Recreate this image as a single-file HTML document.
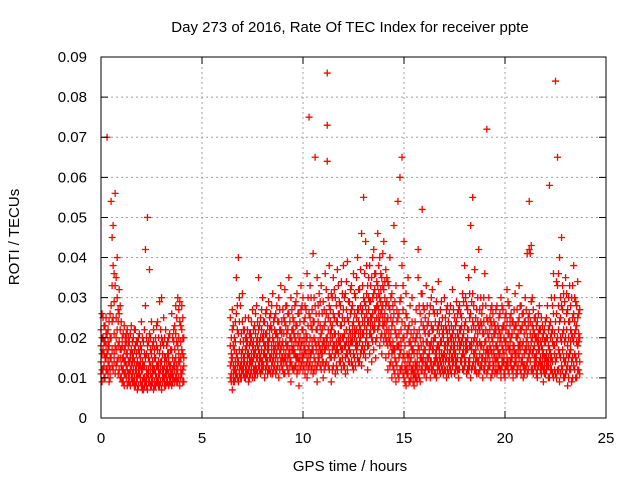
<!DOCTYPE html>
<html><head><meta charset="utf-8">
<style>
html,body{margin:0;padding:0;background:#fff;}
svg{display:block;font-family:"Liberation Sans",sans-serif;}
</style></head>
<body>
<svg id="chart" width="640" height="480" viewBox="0 0 640 480">
<rect x="0" y="0" width="640" height="480" fill="#fff"/>
<text x="350" y="32" font-size="15" text-anchor="middle" fill="#000">Day 273 of 2016, Rate Of TEC Index for receiver ppte</text>
<g id="grid"></g>
<g id="points"></g>
<g id="axes"></g>
<text x="350" y="471" font-size="15" text-anchor="middle">GPS time / hours</text>
<text x="19" y="237" font-size="15" text-anchor="middle" transform="rotate(-90 19 237)">ROTI / TECUs</text>
</svg>
<script>
const xTicks = [0,5,10,15,20,25];
const xTickLabels = ["0","5","10","15","20","25"];
const yTicks = [0,0.01,0.02,0.03,0.04,0.05,0.06,0.07,0.08,0.09];
const yTickLabels = ["0","0.01","0.02","0.03","0.04","0.05","0.06","0.07","0.08","0.09"];
// [time hours, roti values in 0.001 TECU/min]
const samples = [
[0.0,14,22,18,11],[0.1,17,25,12,20],[0.2,10,19,23,15],[0.3,70,16,12,21],[0.4,13,24,18,9],
[0.5,20,54,15,28],[0.6,38,12,25,48],[0.7,56,18,33,11],[0.8,30,14,22,40],[0.9,12,26,19,32],
[1.0,10,17,24,13],[1.1,9,15,21,12],[1.2,14,20,11,18],[1.3,8,16,22,12],[1.4,11,19,9,14],
[1.5,13,23,10,17],[1.6,9,15,20,12],[1.7,12,18,8,22],[1.8,10,14,19,7],[1.9,11,21,13,16],
[2.0,8,17,12,24],[2.1,7,13,19,10],[2.2,9,42,15,28],[2.3,50,11,18,7],[2.4,37,14,21,9],
[2.5,10,16,24,8],[2.6,12,19,7,22],[2.7,8,15,11,20],[2.8,9,24,13,17],[2.9,11,29,16,8],
[3.0,7,14,20,30],[3.1,10,18,12,25],[3.2,8,15,22,11],[3.3,12,19,9,16],[3.4,9,13,21,10],
[3.5,11,17,26,8],[3.6,13,22,10,19],[3.7,10,28,15,21],[3.8,12,18,30,9],[3.9,8,24,14,29],
[4.0,11,17,22,28],[4.1,9,13,20,15],
[6.4,10,18,25,13],[6.5,7,15,22,27],[6.6,12,20,9,17],[6.7,11,26,16,35],[6.8,40,14,21,9],
[6.9,13,19,28,10],[7.0,12,17,24,31],[7.1,10,15,22,14],[7.2,13,20,11,18],[7.3,9,16,25,12],
[7.4,11,21,14,19],[7.5,14,18,27,10],[7.6,10,23,16,12],[7.7,12,19,28,15],[7.8,13,22,17,35],
[7.9,11,25,15,20],[8.0,14,20,30,12],[8.1,10,18,24,16],[8.2,13,27,15,21],[8.3,12,19,29,17],
[8.4,15,23,11,26],[8.5,11,20,31,14],[8.6,13,25,17,22],[8.7,16,21,28,12],[8.8,10,24,18,30],
[8.9,14,22,33,17],[9.0,12,19,27,15],[9.1,15,24,11,32],[9.2,13,21,28,18],[9.3,11,26,16,35],
[9.4,14,20,30,9],[9.5,12,25,17,22],[9.6,16,28,13,20],[9.7,11,23,31,15],[9.8,14,19,26,8],
[9.9,13,27,18,33],[10.0,15,22,30,12],[10.1,11,25,17,28],[10.2,14,20,36,10],[10.3,75,18,26,13],
[10.4,16,30,12,23],[10.5,11,24,41,17],[10.6,65,19,28,14],[10.7,13,35,22,9],[10.8,15,26,18,31],
[10.9,12,21,33,16],[11.0,14,29,19,10],[11.1,17,24,36,13],[11.2,86,73,20,64],[11.3,12,28,16,38],
[11.4,15,22,31,9],[11.5,13,26,18,35],[11.6,16,30,21,11],[11.7,12,24,37,17],[11.8,14,29,19,26],
[11.9,17,23,34,12],[12.0,13,27,20,38],[12.1,15,31,18,11],[12.2,12,25,39,16],[12.3,17,29,22,14],
[12.4,14,33,19,27],[12.5,16,24,36,12],[12.6,13,30,21,18],[12.7,18,27,40,15],[12.8,14,32,23,19],
[12.9,17,46,26,13],[13.0,55,21,30,16],[13.1,15,28,44,19],[13.2,18,33,24,12],[13.3,16,29,38,21],
[13.4,20,35,25,14],[13.5,17,31,42,22],[13.6,19,27,36,15],[13.7,22,33,28,46],[13.8,18,30,40,24],
[13.9,21,35,27,16],[14.0,19,32,44,23],[14.1,15,28,37,20],[14.2,18,34,25,12],[14.3,13,27,40,19],
[14.4,16,23,31,10],[14.5,12,26,48,17],[14.6,14,21,33,9],[14.7,11,25,54,18],[14.8,60,16,29,12],
[14.9,65,13,24,38],[15.0,10,20,44,16],[15.1,12,26,31,8],[15.2,15,22,35,11],[15.3,9,19,28,14],
[15.4,12,24,17,30],[15.5,8,16,22,11],[15.6,13,20,27,10],[15.7,11,35,18,42],[15.8,9,26,15,20],
[15.9,52,14,31,12],[16.0,11,22,17,27],[16.1,13,19,33,10],[16.2,15,24,12,21],[16.3,10,18,28,14],
[16.4,12,32,17,22],[16.5,14,20,26,11],[16.6,10,17,29,15],[16.7,13,23,18,34],[16.8,11,19,27,14],
[16.9,15,25,12,21],[17.0,12,18,30,16],[17.1,10,22,15,27],[17.2,14,19,24,11],[17.3,12,28,17,20],
[17.4,15,21,32,13],[17.5,11,18,25,16],[17.6,13,24,14,29],[17.7,10,20,27,12],[17.8,14,26,18,22],
[17.9,12,31,16,20],[18.0,15,23,38,13],[18.1,11,19,28,17],[18.2,14,35,22,12],[18.3,10,48,18,26],
[18.4,55,13,24,31],[18.5,12,20,37,16],[18.6,15,27,19,11],[18.7,11,23,42,14],[18.8,13,30,18,24],
[18.9,10,21,28,15],[19.0,14,36,19,12],[19.1,72,17,25,11],[19.2,13,20,30,16],[19.3,10,24,17,27],
[19.4,12,19,26,14],[19.5,15,23,11,21],[19.6,11,18,28,15],[19.7,13,25,16,22],[19.8,10,20,30,12],
[19.9,14,27,17,23],[20.0,12,19,25,10],[20.1,15,24,32,13],[20.2,11,21,17,28],[20.3,13,26,15,20],
[20.4,10,18,24,12],[20.5,14,23,31,16],[20.6,12,20,27,11],[20.7,15,25,18,33],[20.8,11,22,28,14],
[20.9,13,19,26,10],[21.0,12,24,30,17],[21.1,14,41,20,11],[21.2,42,54,26,16],[21.3,43,19,29,12],
[21.4,11,22,17,27],[21.5,13,25,15,20],[21.6,10,19,24,12],[21.7,14,22,17,28],[21.8,11,18,25,13],
[21.9,12,21,16,9],[22.0,15,24,19,11],[22.1,13,20,28,14],[22.2,58,17,23,10],[22.3,12,21,30,15],
[22.4,10,26,18,36],[22.5,84,14,24,11],[22.6,65,20,33,12],[22.7,9,16,40,24],[22.8,13,28,19,45],
[22.9,10,22,31,15],[23.0,14,35,20,11],[23.1,8,18,27,13],[23.2,12,24,16,33],[23.3,9,30,21,14],
[23.4,13,38,19,26],[23.5,10,22,29,15],[23.6,12,34,18,25],[23.7,14,20,27,11]
];
// extra interleaved samples filling the dense core
const samplesCore = [
[0.05,16,12,20,26,9],[0.15,19,13,23,10,16],[0.25,12,21,15,18,25],[0.35,22,14,11,17,19],[0.45,15,26,12,20,10],
[0.55,24,33,17,13,45],[0.65,29,16,36,21,14],[0.75,25,35,13,20,17],[0.85,18,27,11,24,15],[0.95,15,22,10,17,28],
[1.05,12,20,15,9,18],[1.15,17,11,23,14,8],[1.25,10,16,19,13,21],[1.35,14,9,18,20,11],[1.45,16,12,8,21,15],
[1.55,11,19,14,9,16],[1.65,14,10,17,22,8],[1.75,9,16,13,19,11],[1.85,13,8,17,11,20],[1.95,9,15,10,18,13],
[2.05,12,9,20,14,7],[2.15,10,16,8,13,22],[2.25,12,20,10,16,8],[2.35,9,15,12,19,11],[2.45,13,8,17,11,20],
[2.55,11,14,9,18,13],[2.65,9,17,12,8,15],[2.75,13,10,18,9,23],[2.85,10,14,20,12,8],[2.95,12,9,18,14,22],
[3.05,9,12,16,11,19],[3.15,13,8,15,20,10],[3.25,10,14,18,9,12],[3.35,11,16,8,20,14],[3.45,13,10,17,12,9],
[3.55,10,15,12,20,9],[3.65,12,17,9,14,23],[3.75,11,19,13,9,25],[3.85,14,10,20,16,27],[3.95,10,15,12,19,23],
[4.05,12,9,16,20,25],
[6.45,9,14,20,16,11],[6.55,11,18,13,23,9],[6.65,14,10,19,24,12],[6.75,10,15,22,13,28],[6.85,12,17,11,24,30],
[6.95,10,16,14,21,12],[7.05,15,11,19,13,22],[7.15,12,17,20,10,25],[7.25,14,11,16,22,19],[7.35,13,18,10,21,15],
[7.45,12,16,20,24,14],[7.55,15,12,19,22,17],[7.65,13,17,21,11,26],[7.75,11,15,20,24,18],[7.85,14,19,12,23,16],
[7.95,12,17,22,14,27],[8.05,16,13,19,24,21],[8.15,12,15,21,18,26],[8.25,14,17,23,11,19],[8.35,15,12,20,25,22],
[8.45,13,18,16,22,28],[8.55,15,12,19,24,17],[8.65,11,18,21,15,26],[8.75,14,20,13,24,18],[8.85,12,16,22,19,27],
[8.95,15,18,13,24,21],[9.05,11,17,21,14,25],[9.15,14,19,16,23,28],[9.25,12,18,22,15,26],[9.35,15,20,13,24,17],
[9.45,13,17,22,19,27],[9.55,16,12,21,24,18],[9.65,13,19,23,15,29],[9.75,15,18,21,12,26],[9.85,12,17,24,20,15],
[9.95,14,19,22,16,28],[10.05,13,18,24,20,16],[10.15,16,21,13,27,19],[10.25,12,17,23,30,15],[10.35,14,20,16,25,33],
[10.45,13,19,22,17,27],[10.55,15,20,24,12,30],[10.65,12,17,22,26,18],[10.75,14,19,16,24,28],[10.85,13,20,23,17,29],
[10.95,16,18,22,26,14],[11.05,12,19,23,17,27],[11.15,14,20,26,18,32],[11.25,13,18,22,25,30],[11.35,15,19,24,21,27],
[11.45,12,17,23,20,30],[11.55,15,21,18,25,32],[11.65,13,19,24,17,28],[11.75,16,21,26,19,33],[11.85,14,18,23,28,20],
[11.95,15,20,25,17,31],[12.05,13,18,24,21,30],[12.15,16,22,19,27,34],[12.25,14,20,24,18,29],[12.35,16,21,26,19,32],
[12.45,13,19,23,28,21],[12.55,15,20,26,22,31],[12.65,17,22,25,19,35],[12.75,14,21,27,24,32],[12.85,16,22,28,20,37],
[12.95,18,24,27,21,33],[13.05,17,23,29,25,36],[13.15,20,26,22,31,38],[13.25,18,24,30,27,35],[13.35,21,25,29,33,23],
[13.45,19,26,30,23,40],[13.55,22,27,32,24,36],[13.65,20,25,30,34,28],[13.75,23,27,31,25,38],[13.85,20,26,32,29,36],
[13.95,23,28,33,25,41],[14.05,21,26,30,34,24],[14.15,19,24,29,22,35],[14.25,16,22,28,20,33],[14.35,14,21,25,18,30],
[14.45,13,19,24,17,28],[14.55,11,17,22,15,29],[14.65,13,18,24,20,27],[14.75,10,15,21,18,26],[14.85,12,17,22,19,30],
[14.95,11,15,20,27,33],[15.05,9,14,18,23,12],[15.15,11,16,21,13,25],[15.25,9,13,19,16,23],[15.35,10,15,12,21,18],
[15.45,9,13,17,20,11],[15.55,10,14,12,19,24],[15.65,12,16,9,21,14],[15.75,10,13,17,22,28],[15.85,12,18,15,24,31],
[15.95,14,19,23,16,28],[16.05,12,17,21,14,25],[16.15,15,19,13,23,28],[16.25,12,16,21,18,26],[16.35,14,19,23,12,30],
[16.45,13,17,22,19,27],[16.55,11,16,20,24,14],[16.65,14,18,22,12,26],[16.75,12,17,21,15,24],[16.85,13,19,23,16,29],
[16.95,11,16,20,22,14],[17.05,14,18,23,12,25],[17.15,12,17,21,19,28],[17.25,13,16,22,14,26],[17.35,11,18,20,23,15],
[17.45,14,17,22,19,27],[17.55,12,16,20,23,14],[17.65,15,18,21,12,26],[17.75,12,17,22,19,28],[17.85,14,19,23,15,25],
[17.95,12,18,21,16,29],[18.05,14,19,24,17,30],[18.15,12,17,22,20,27],[18.25,15,18,25,13,31],[18.35,12,17,22,19,29],
[18.45,14,19,23,16,28],[18.55,12,17,22,25,14],[18.65,14,18,21,24,30],[18.75,12,16,22,19,27],[18.85,15,18,23,13,26],
[18.95,12,17,21,24,30],[19.05,14,19,22,16,28],[19.15,12,17,21,24,15],[19.25,14,18,22,13,25],[19.35,11,16,20,23,28],
[19.45,13,17,21,16,24],[19.55,12,18,22,14,27],[19.65,14,17,20,23,12],[19.75,12,16,21,19,26],[19.85,13,18,22,15,28],
[19.95,11,16,20,23,14],[20.05,13,17,22,19,26],[20.15,12,18,21,14,29],[20.25,14,17,23,19,25],[20.35,12,16,21,24,15],
[20.45,13,18,22,17,27],[20.55,11,16,20,23,14],[20.65,13,18,21,24,16],[20.75,12,17,22,19,28],[20.85,14,18,23,15,26],
[20.95,11,16,21,24,13],[21.05,13,17,22,19,27],[21.15,12,18,23,15,25],[21.25,14,17,21,24,41],[21.35,12,16,20,23,30],
[21.45,13,18,21,15,25],[21.55,11,16,20,23,14],[21.65,13,17,21,19,26],[21.75,12,15,19,22,14],[21.85,13,17,20,15,23],
[21.95,11,15,19,13,22],[22.05,12,16,20,14,25],[22.15,10,15,18,22,13],[22.25,12,16,20,14,24],[22.35,11,14,19,22,28],
[22.45,12,16,21,18,30],[22.55,10,15,19,26,34],[22.65,12,17,22,28,36],[22.75,11,15,20,25,30],[22.85,12,17,21,27,33],
[22.95,10,14,19,24,29],[23.05,12,16,22,26,31],[23.15,10,15,20,24,30],[23.25,12,17,22,19,28],[23.35,10,15,20,25,33],
[23.45,12,16,21,24,30],[23.55,10,14,19,23,28],[23.65,12,16,21,19,26]
];

const NS = "http://www.w3.org/2000/svg";
const L = 101, R = 606, T = 57, B = 418;
const xMin = 0, xMax = 25, yMin = 0, yMax = 0.09;
function xScale(v){ return L + (v - xMin) / (xMax - xMin) * (R - L); }
function yScale(v){ return B - (v - yMin) / (yMax - yMin) * (B - T); }
function mk(tag, attrs){ const e = document.createElementNS(NS, tag); for (const k in attrs) e.setAttribute(k, attrs[k]); return e; }

const grid = document.getElementById('grid');
const axes = document.getElementById('axes');
const pts = document.getElementById('points');

xTicks.forEach((t, i) => {
  const x = xScale(t);
  if (t > xMin && t < xMax) {
    const g = mk('line', {x1:x, y1:T, x2:x, y2:B, stroke:'#a0a0a0', 'stroke-width':1, 'stroke-dasharray':'2,3'});
    
    
    grid.appendChild(g);
  }
  const tk = mk('path', {d:`M${x},${B}v-7M${x},${T}v7`, stroke:'#000', 'stroke-width':1});
  
  
  axes.appendChild(tk);
  const lb = mk('text', {x:x, y:443, 'font-size':15, 'text-anchor':'middle'});
  lb.textContent = xTickLabels[i];
  
  
  axes.appendChild(lb);
});
yTicks.forEach((t, i) => {
  const y = yScale(t);
  if (t > yMin && t < yMax - 1e-9) {
    const g = mk('line', {x1:L, y1:y, x2:R, y2:y, stroke:'#a0a0a0', 'stroke-width':1, 'stroke-dasharray':'2,3'});
    
    
    grid.appendChild(g);
  }
  const tk = mk('path', {d:`M${L},${y}h7M${R},${y}h-7`, stroke:'#000', 'stroke-width':1});
  
  
  axes.appendChild(tk);
  const lb = mk('text', {x:87, y:y + 5, 'font-size':15, 'text-anchor':'end'});
  lb.textContent = yTickLabels[i];
  
  
  axes.appendChild(lb);
});
const frame = mk('rect', {x:L, y:T, width:R - L, height:B - T, fill:'none', stroke:'#000', 'stroke-width':1});


axes.appendChild(frame);

function drawRows(rows){
  rows.forEach(row => {
    const x = xScale(row[0]);
    for (let j = 1; j < row.length; j++) {
      const y = yScale(row[j] / 1000);
      const p = mk('path', {d:`M${x-3.5},${y}h7M${x},${y-3.5}v7`, stroke:'#ff0000', 'stroke-width':1.3, fill:'none'});
      
      
      pts.appendChild(p);
    }
  });
}
drawRows(samplesCore);
drawRows(samples);
</script>
</body></html>
